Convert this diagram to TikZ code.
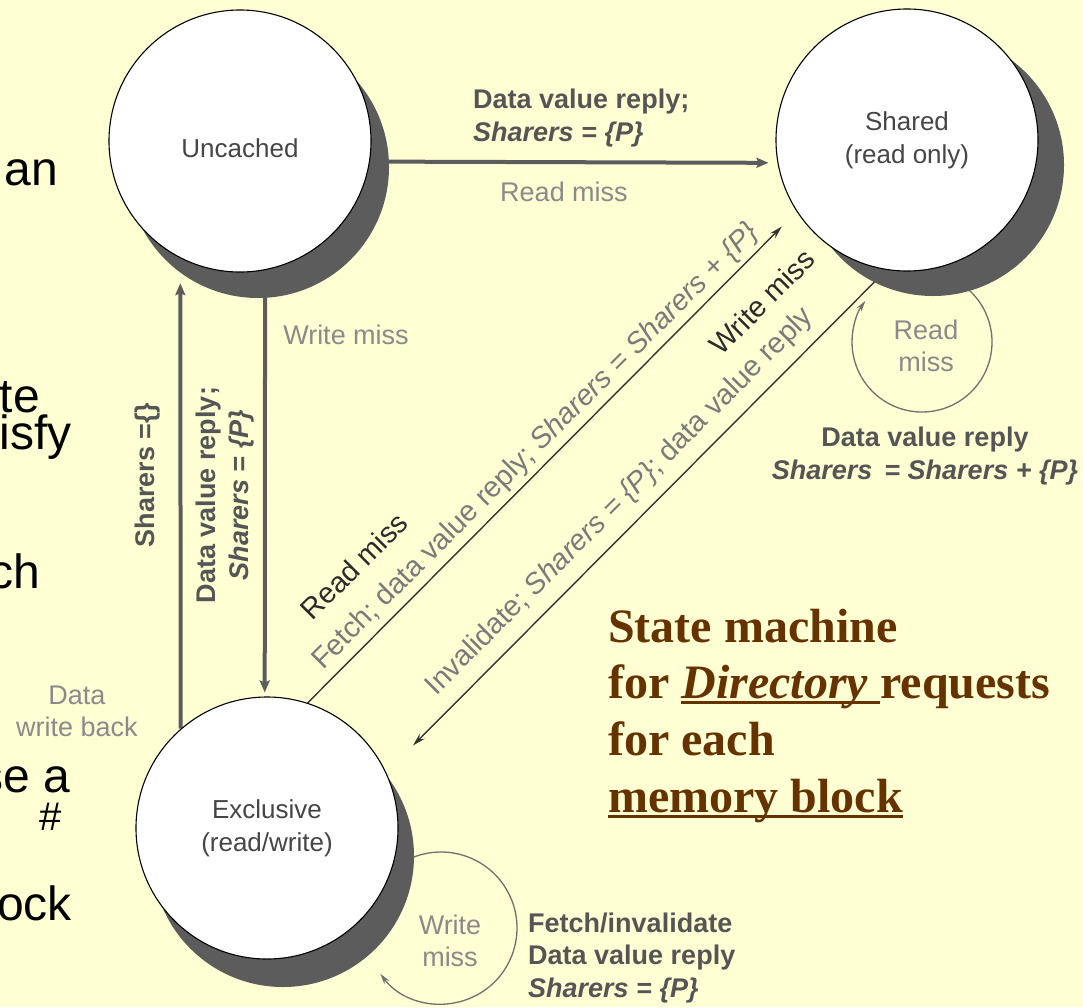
\documentclass[tikz,border=0pt]{standalone}
\usepackage{fontspec}
\setmainfont{Liberation Serif}
\newfontfamily\labelfont{Liberation Sans}
\usetikzlibrary{arrows.meta}

\definecolor{paper}{HTML}{FFFFD4}
\definecolor{shadowgray}{HTML}{5C5C5C}
\definecolor{wire}{HTML}{5C5C5C}
\definecolor{thinwire}{HTML}{333333}
\definecolor{loopgray}{HTML}{707070}
\definecolor{statetext}{HTML}{454545}
\definecolor{boldlabel}{HTML}{555555}
\definecolor{softlabel}{HTML}{8A8A8A}
\definecolor{midlabel}{HTML}{7A7A7A}
\definecolor{darklabel}{HTML}{2A2A2A}
\definecolor{titlebrown}{HTML}{663300}

% underline at a fixed depth, so descenders cross it
\newcommand\lineunder[1]{\sbox0{#1}\rlap{\rule[-6pt]{\wd0}{2.8pt}}\usebox0}

\pgfdeclarelayer{bg}
\pgfdeclarelayer{wires}
\pgfdeclarelayer{shadelayer}
\pgfsetlayers{bg,wires,shadelayer,main}

\begin{document}
\begin{tikzpicture}[x=1pt,y=-1pt,
  state/.style={circle,draw=black,line width=1.1pt,fill=white,minimum size=262pt,
    inner sep=0pt,text=statetext,align=center,
    font=\labelfont\fontsize{26}{33}\selectfont},
  statename/.style={inner sep=0pt,text=statetext,font=\labelfont\fontsize{26}{33}\selectfont},
  heavy/.style={draw=wire,line width=4pt,-{Stealth[length=12pt,width=10pt,inset=2pt]}},
  light/.style={draw=thinwire,line width=1.4pt,-{Stealth[length=13pt,width=7pt]}},
  loopline/.style={draw=loopgray,line width=1.3pt,-{Stealth[length=11pt,width=6pt]}},
  lbl/.style={inner sep=0pt,align=center,font=\labelfont\fontsize{27}{32}\selectfont},
  soft/.style={lbl,text=softlabel},
  strong/.style={lbl,text=boldlabel,font=\labelfont\bfseries\fontsize{27}{32.5}\selectfont},
  diagsoft/.style={lbl,text=midlabel,rotate=45,font=\labelfont\fontsize{29}{32}\selectfont},
  diagdark/.style={lbl,text=darklabel,rotate=45,font=\labelfont\fontsize{29}{32}\selectfont},
  frag/.style={inner sep=0pt,anchor=base east,font=\labelfont\fontsize{48}{48}\selectfont},
  heading/.style={inner sep=0pt,anchor=base west,text=titlebrown,
    font=\bfseries\fontsize{48}{56}\selectfont}]

% page
\useasboundingbox (0,0) rectangle (1083,1007);
\begin{pgfonlayer}{bg}
  \fill[paper] (0,0) rectangle (1083,1007);
\end{pgfonlayer}

% states
\node[state] (un) at (240,141) {};
\node[statename] (unname) at (240,148) {Uncached};
\node[state] (sh) at (907,140) {Shared\\(read only)};
\node[state] (ex) at (267,828) {Exclusive\\(read/write)};

% drop shadows below each state
\begin{pgfonlayer}{shadelayer}
  \foreach \s/\dx/\dy in {un/18/26,sh/26/25,ex/16/28}
    \fill[shadowgray] ([shift={(\dx,\dy)}]\s.center) circle[radius=131];
\end{pgfonlayer}

% loop centres
\coordinate (shloop) at (922,342);
\coordinate (exloop) at (441,928);

% transitions
\begin{pgfonlayer}{wires}
  \draw[heavy,shorten >=9pt] (un.-9.7) -- (sh.190);
  \draw[heavy,shorten >=4pt] (un.-79.4) -- (ex.91.3);
  \draw[heavy,shorten >=25pt] (ex.131.6) -- (un.-117.3);
  \draw[light,shorten >=21pt] (ex.72.2) -- (sh.213);
  \draw[light,shorten >=38pt] (sh.261.1) -- (ex.25.4);
  \draw[loopline] ([shift={(-60:70)}]shloop) arc[start angle=-60,end angle=216,radius=70];
  \draw[loopline] ([shift={(-120:76)}]exloop) arc[start angle=-120,end angle=143,radius=76];
\end{pgfonlayer}

% labels: Uncached -> Shared
\node[strong,anchor=west,align=left] (lbUS) at (473,118)
  {Data value reply;\\\itshape Sharers = \{P\}};
\node[soft] (lbUSb) at (564,192) {Read miss};

% labels: Uncached <-> Exclusive
\node[soft] (lbUE) at (346,335) {Write miss};
\node[strong,rotate=90] (lbUEb) at (225,495)
  {Data value reply;\\\itshape Sharers = \{P\}};
\node[strong,rotate=90] (lbEU) at (148,475) {Sharers =\{\}};
\node[soft] (lbEUb) at (77,711) {Data\\write back};

% labels: Exclusive -> Shared
\node[diagdark] (lbES) at (354,566) {Read miss};
\node[diagsoft] (lbESb) at (536,447)
  {Fetch; data value reply; \textit{Sharers = Sharers + \{P\}}};

% labels: Shared -> Exclusive
\node[diagdark] (lbSE) at (762,302) {Write miss};
\node[diagsoft] (lbSEb) at (620,502)
  {Invalidate; \textit{Sharers = \{P\}}; data value reply};

% self loops
\node[soft] (lbSS) at (926,346) {Read\\miss};
\node[strong] (lbSSb) at (925,456) {Data value reply\\\itshape Sharers\, = Sharers + \{P\}};
\node[soft] (lbEE) at (450,941) {Write\\miss};
\node[strong,anchor=west,align=left] (lbEEb) at (528,958)
  {Fetch/invalidate\\Data value reply\\\itshape Sharers = \{P\}};

% caption
\node[heading] (tt1) at (608,642) {State machine};
\node[heading] (tt2) at (608,698) {for \lineunder{\textit{Directory}\ }requests};
\node[heading] (tt3) at (608,755) {for each};
\node[heading] (tt4) at (608,812) {\lineunder{memory block}};

% text running in from the left margin
\node[frag] (f1) at (58,185) {an};
\node[frag] (f2) at (40,412) {te};
\node[frag] (f3) at (72,449) {isfy};
\node[frag] (f4) at (40,588) {ch};
\node[frag] (f5) at (70,792) {se a};
\node[frag,font=\labelfont\fontsize{40}{40}\selectfont] (f6) at (62,830) {\#};
\node[frag] (f7) at (72,920) {ock};
\end{tikzpicture}
\end{document}
